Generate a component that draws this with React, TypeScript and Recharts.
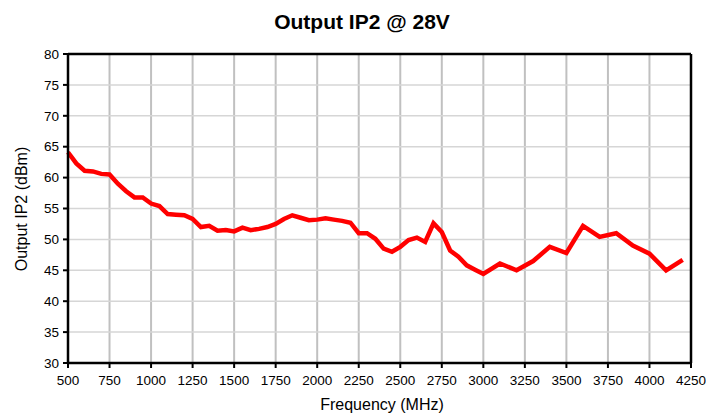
import React from "react";
import {
  LineChart,
  Line,
  XAxis,
  YAxis,
  CartesianGrid,
  ReferenceLine,
} from "recharts";

const frequencies = [
  500, 550, 600, 650, 700, 750, 800, 850, 900, 950, 1000, 1050, 1100, 1150,
  1200, 1250, 1300, 1350, 1400, 1450, 1500, 1550, 1600, 1650, 1700, 1750,
  1800, 1850, 1900, 1950, 2000, 2050, 2100, 2150, 2200, 2250, 2300, 2350,
  2400, 2450, 2500, 2550, 2600, 2650, 2700, 2750, 2800, 2850, 2900, 2950,
  3000, 3100, 3200, 3300, 3400, 3500, 3600, 3700, 3800, 3900, 4000, 4100,
  4200,
];

const ip2 = [
  64.1, 62.3, 61.1, 61.0, 60.6, 60.5, 59.0, 57.8, 56.8, 56.8, 55.8, 55.4,
  54.1, 54.0, 53.9, 53.3, 52.0, 52.2, 51.4, 51.5, 51.3, 51.9, 51.5, 51.7,
  52.0, 52.5, 53.3, 53.9, 53.5, 53.1, 53.2, 53.4, 53.2, 53.0, 52.7, 51.0,
  51.0, 50.1, 48.5, 48.0, 48.8, 49.9, 50.3, 49.6, 52.6, 51.2, 48.2, 47.2,
  45.8, 45.1, 44.4, 46.1, 45.0, 46.5, 48.8, 47.8, 52.2, 50.4, 51.0, 49.0,
  47.7, 45.0, 46.7,
];

const xTicks = [
  500, 750, 1000, 1250, 1500, 1750, 2000, 2250, 2500, 2750, 3000, 3250, 3500,
  3750, 4000, 4250,
];
const yTicks = [30, 35, 40, 45, 50, 55, 60, 65, 70, 75, 80];

const data = frequencies.map((f, i) => ({ freq: f, value: ip2[i] }));

const font = "'Liberation Sans', Arial, sans-serif";
const tickStyle = { fill: "#000", fontSize: 13.5, fontFamily: font };

export default function App() {
  return (
    <div
      style={{
        position: "absolute",
        left: 0,
        top: 0,
        width: 706,
        height: 413,
        background: "#fff",
      }}
    >
      <LineChart
        width={706}
        height={413}
        data={data}
        margin={{ top: 54, right: 15, left: 0, bottom: 0 }}
      >
        <CartesianGrid horizontal={false} stroke="#c0c0c0" strokeWidth={2} />
        <CartesianGrid vertical={false} stroke="#d6d6d6" strokeWidth={1.5} />
        <XAxis
          dataKey="freq"
          type="number"
          domain={[500, 4250]}
          ticks={xTicks}
          height={50}
          tick={tickStyle}
          tickSize={5}
          tickMargin={7}
          axisLine={{ stroke: "#000", strokeWidth: 2.5 }}
          tickLine={{ stroke: "#000", strokeWidth: 2 }}
          interval={0}
        />
        <YAxis
          type="number"
          domain={[30, 80]}
          ticks={yTicks}
          width={68}
          tick={tickStyle}
          tickSize={5}
          tickMargin={4}
          axisLine={{ stroke: "#000", strokeWidth: 2.5 }}
          tickLine={{ stroke: "#000", strokeWidth: 2 }}
          interval={0}
        />
        <ReferenceLine y={80} stroke="#000" strokeWidth={2.5} />
        <ReferenceLine x={4250} stroke="#000" strokeWidth={2.5} />
        <Line
          type="linear"
          dataKey="value"
          stroke="#ff0000"
          strokeWidth={4.5}
          dot={false}
          isAnimationActive={false}
        />
      </LineChart>
      <svg
        width={706}
        height={413}
        style={{ position: "absolute", left: 0, top: 0, pointerEvents: "none" }}
      >
        <text
          x={362}
          y={29}
          textAnchor="middle"
          fontFamily={font}
          fontWeight="bold"
          fontSize={21}
          fill="#000"
        >
          Output IP2 @ 28V
        </text>
        <text
          x={382}
          y={410}
          textAnchor="middle"
          fontFamily={font}
          fontSize={16}
          fill="#000"
        >
          Frequency (MHz)
        </text>
        <text
          x={27}
          y={209}
          textAnchor="middle"
          fontFamily={font}
          fontSize={16}
          fill="#000"
          transform="rotate(-90 27 209)"
        >
          Output IP2 (dBm)
        </text>
      </svg>
    </div>
  );
}
